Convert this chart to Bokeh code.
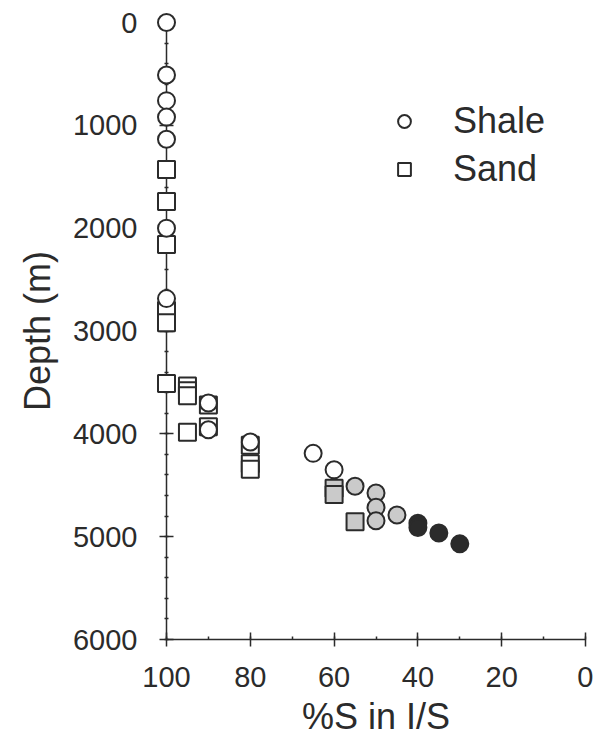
from bokeh.plotting import figure
from bokeh.models import Range1d, SingleIntervalTicker, Legend, LegendItem
from bokeh.embed import file_html
from bokeh.resources import INLINE

# ---- data ----
shale_open_pct = [100, 100, 100, 100, 100, 100, 100, 90, 90, 80, 65, 60]
shale_open_depth = [0, 510, 760, 920, 1135, 2000, 2685, 3700, 3960, 4080, 4190, 4350]
shale_gray_pct = [55, 50, 50, 50, 45]
shale_gray_depth = [4510, 4575, 4715, 4845, 4790]
shale_black_pct = [40, 40, 35, 30]
shale_black_depth = [4870, 4910, 4965, 5070]

sand_open_pct = [100, 100, 100, 100, 100, 100, 95, 95, 95, 95, 90, 90, 80, 80, 80]
sand_open_depth = [1430, 1740, 2160, 2800, 2920, 3510, 3535, 3580, 3630, 3985, 3720, 3930, 4110, 4290, 4345]
sand_gray_pct = [60, 60, 55]
sand_gray_depth = [4530, 4590, 4855]

x_ticks_interval = 20
y_ticks_interval = 1000

INK = "#2b2b2b"
GRAY = "#cacaca"
FONT = "Liberation Sans"

p = figure(width=593, height=740,
           x_range=Range1d(100, 0), y_range=Range1d(6000, 0),
           output_backend="svg", toolbar_location=None,
           min_border_left=166, min_border_right=8,
           min_border_top=22, min_border_bottom=101)
p.outline_line_color = None
p.grid.visible = False
p.background_fill_color = "white"

# markers (annotation level so the ones on the frame edge are not clipped)
mk = dict(size=17, line_color=INK, line_width=2, level="annotation")
r_sand_open = p.scatter(sand_open_pct, sand_open_depth, marker="square", fill_color="white", **mk)
r_shale_open = p.scatter(shale_open_pct, shale_open_depth, marker="circle", fill_color="white", **mk)
p.scatter(sand_gray_pct, sand_gray_depth, marker="square", fill_color=GRAY, **mk)
p.scatter(shale_gray_pct, shale_gray_depth, marker="circle", fill_color=GRAY, **mk)
p.scatter(shale_black_pct, shale_black_depth, marker="circle", fill_color=INK, **mk)

# axes
xa = p.xaxis[0]
xa.ticker = SingleIntervalTicker(interval=x_ticks_interval, num_minor_ticks=2)
ya = p.yaxis[0]
ya.ticker = SingleIntervalTicker(interval=y_ticks_interval, num_minor_ticks=5)

for ax in (xa, ya):
    ax.axis_line_color = INK
    ax.axis_line_width = 1.5
    ax.major_tick_line_color = INK
    ax.major_tick_line_width = 1.5
    ax.major_tick_in = 7
    ax.major_tick_out = 7
    ax.minor_tick_line_color = INK
    ax.minor_tick_line_width = 1.5
    ax.major_label_text_font = FONT
    ax.major_label_text_font_size = "29px"
    ax.major_label_text_color = INK
    ax.axis_label_text_font = FONT
    ax.axis_label_text_font_style = "normal"
    ax.axis_label_text_color = INK
    ax.axis_label_text_font_size = "36px"

xa.minor_tick_in = 3
xa.minor_tick_out = 0
ya.minor_tick_in = 2
ya.minor_tick_out = 2

xa.axis_label = "%S in I/S"
xa.major_label_standoff = 20
xa.axis_label_standoff = 6

ya.axis_label = "Depth (m)"
ya.major_label_standoff = 22
ya.axis_label_standoff = 12

legend = Legend(items=[LegendItem(label="Shale", renderers=[r_shale_open]),
                       LegendItem(label="Sand", renderers=[r_sand_open])],
                location=(222, 449), orientation="vertical",
                border_line_color=None, background_fill_alpha=0,
                padding=0, margin=0, spacing=6,
                glyph_width=32, glyph_height=32, label_standoff=33,
                label_text_font=FONT, label_text_font_size="36px",
                label_text_color=INK)
p.add_layout(legend)

open("out.html", "w").write(file_html(p, INLINE))
